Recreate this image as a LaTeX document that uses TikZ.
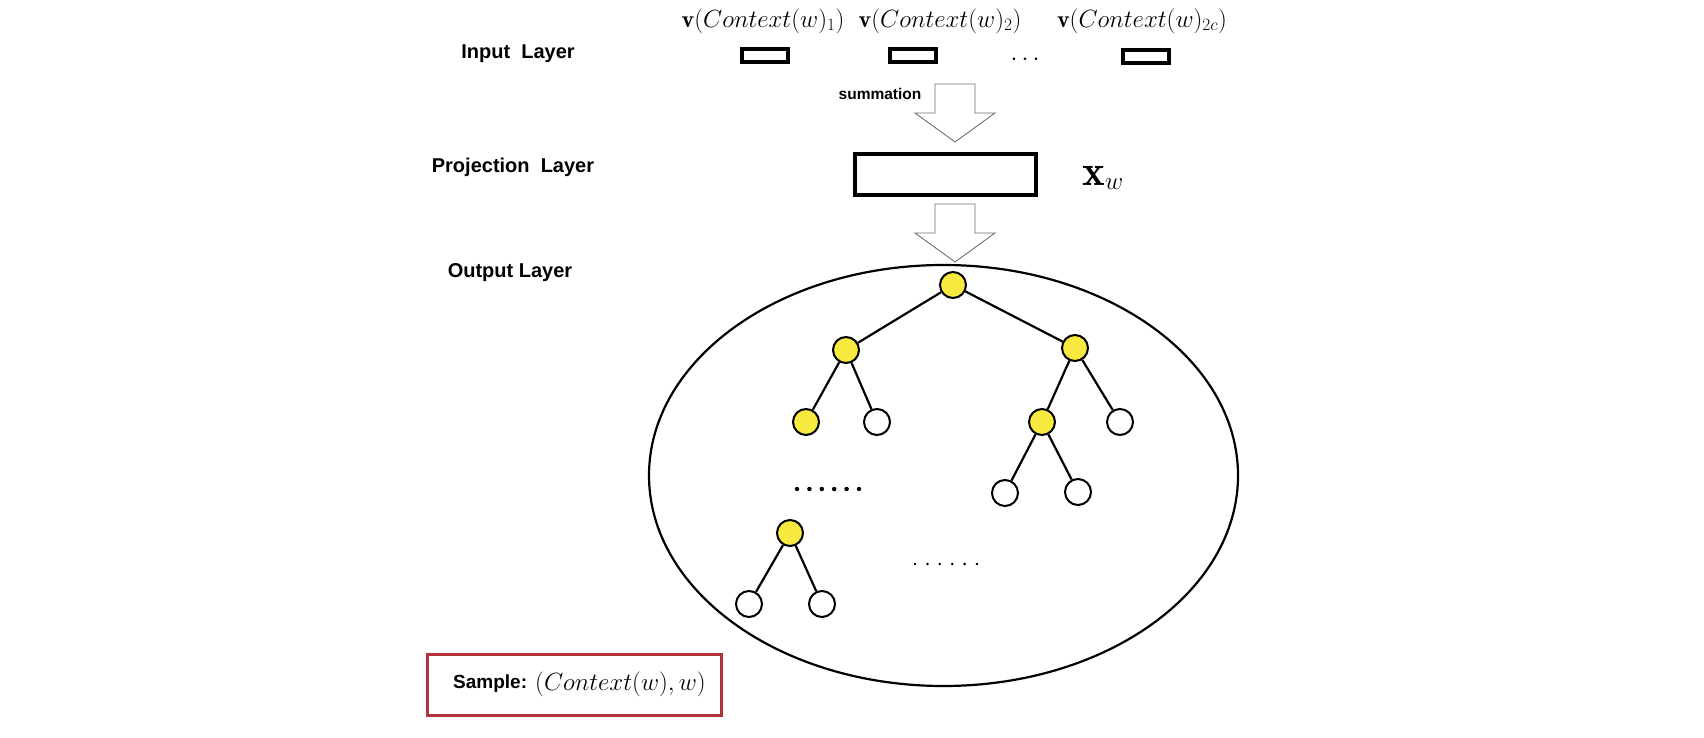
\documentclass[tikz,border=0pt]{standalone}
\usepackage{fontspec}
\setsansfont{Liberation Sans}
\usetikzlibrary{shapes.geometric}
\definecolor{nodeyellow}{RGB}{247,233,63}
\definecolor{samplered}{RGB}{178,50,62}
\definecolor{arrowgrey}{RGB}{110,110,110}
\begin{document}
\begin{tikzpicture}[x=1pt,y=-1pt,
  lay/.style={font=\sffamily\bfseries\fontsize{20}{24}\selectfont, inner sep=0pt},
  vlab/.style={font=\fontsize{24}{28}\selectfont, inner sep=0pt},
  inbox/.style={draw, line width=4pt, minimum width=46pt, minimum height=13pt, inner sep=0pt},
  projbox/.style={draw, line width=4pt, minimum width=181pt, minimum height=41pt, inner sep=0pt},
  tn/.style={draw, line width=2pt, circle, minimum size=26pt, inner sep=0pt},
  yn/.style={tn, fill=nodeyellow},
  wn/.style={tn, fill=white},
  edge/.style={line width=2.2pt},
  blockarrow/.style={draw=arrowgrey, line width=0.9pt, fill=white},
  bigdot/.style={fill, circle, minimum size=4.5pt, inner sep=0pt},
  smalldot/.style={fill, circle, minimum size=2.8pt, inner sep=0pt}
]
\useasboundingbox (0,0) rectangle (1704,738);

% layer labels
\node[lay] (linput) at (518,54) {Input\ \ Layer};
\node[lay] (lproj) at (513,167) {Projection\ \ Layer};
\node[lay] (lout) at (510,273) {Output Layer};

% input boxes and labels
\node[vlab] (v1) at (763,21) {$\mathbf{v}(Context(w)_1)$};
\node[vlab] (v2) at (940,21) {$\mathbf{v}(Context(w)_2)$};
\node[vlab] (v3) at (1142,21) {$\mathbf{v}(Context(w)_{2c})$};
\node[inbox] (b1) at (765,56) {};
\node[inbox] (b2) at (913,56) {};
\node[inbox] (b3) at (1146,57) {};
\node[vlab] (idots) at (1025,59.5) {$\cdots$};

% summation arrow
\node[font=\sffamily\bfseries\fontsize{15.5}{18}\selectfont, inner sep=0pt] (sum) at (880,94) {summation};
\coordinate (a1top) at (955,84);
\coordinate (a1tip) at (955,142);
\draw[blockarrow] ([xshift=-20pt]a1top) -- ([xshift=20pt]a1top) -- ++(0,29) -- ++(20,0) -- (a1tip) -- ([xshift=-40pt,yshift=29pt]a1tip) -- ++(20,0) -- cycle;

% projection layer
\node[projbox] (proj) at (945.5,174.5) {};
\node[font=\fontsize{43}{48}\selectfont, inner sep=0pt] (xw) at (1103,178) {$\mathbf{x}_w$};

% second arrow
\coordinate (a2top) at (955,204);
\coordinate (a2tip) at (955,262);
\draw[blockarrow] ([xshift=-20pt]a2top) -- ([xshift=20pt]a2top) -- ++(0,29) -- ++(20,0) -- (a2tip) -- ([xshift=-40pt,yshift=29pt]a2tip) -- ++(20,0) -- cycle;

% output ellipse
\node[draw, ellipse, line width=2.2pt, minimum width=589pt, minimum height=421pt, inner sep=0pt] (out) at (943.5,475.5) {};

% tree
\node[yn] (r) at (953,285) {};
\node[yn] (l) at (846,350) {};
\node[yn] (rr) at (1075,348) {};
\node[yn] (la) at (806,422) {};
\node[wn] (lb) at (877,422) {};
\node[yn] (rc) at (1042,422) {};
\node[wn] (rd) at (1120,422) {};
\node[wn] (rc1) at (1005,493) {};
\node[wn] (rc2) at (1078,492) {};
\node[yn] (bn) at (790,533) {};
\node[wn] (bn1) at (749,604) {};
\node[wn] (bn2) at (822,604) {};
\draw[edge] (r) -- (l);
\draw[edge] (r) -- (rr);
\draw[edge] (l) -- (la);
\draw[edge] (l) -- (lb);
\draw[edge] (rr) -- (rc);
\draw[edge] (rr) -- (rd);
\draw[edge] (rc) -- (rc1);
\draw[edge] (rc) -- (rc2);
\draw[edge] (bn) -- (bn1);
\draw[edge] (bn) -- (bn2);

% dots
\foreach \i in {0,...,5} {
  \node[bigdot] (da\i) at (797+12.4*\i,489) {};
  \node[smalldot] (db\i) at (915+12.4*\i,564) {};
}

% sample box
\node[draw=samplered, line width=3pt, minimum width=294pt, minimum height=61pt, inner sep=0pt] (sample) at (574.5,684.5) {};
\node[font=\sffamily\bfseries\fontsize{19}{22}\selectfont, anchor=west, inner sep=0pt] (stxt) at (453,684) {Sample:};
\node[font=\fontsize{23}{27}\selectfont, anchor=west, inner sep=0pt] (smath) at (535,684) {$(Context(w),w)$};
\end{tikzpicture}
\end{document}
